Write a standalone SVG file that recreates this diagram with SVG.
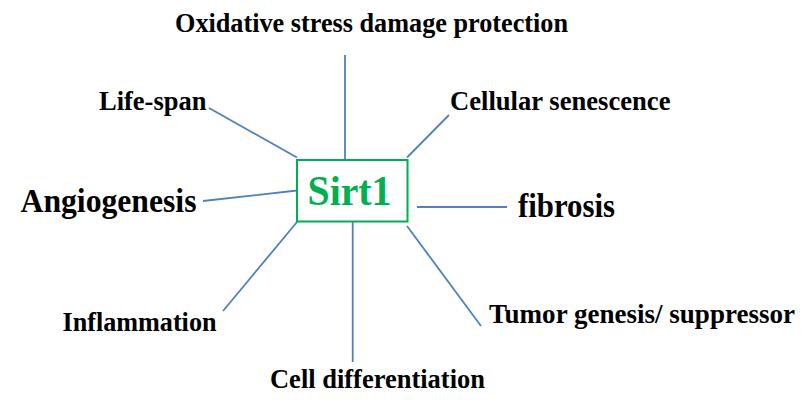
<svg xmlns="http://www.w3.org/2000/svg" width="811" height="411" viewBox="0 0 811 411">
<style>
.lbl{font-family:"Liberation Serif","Times New Roman",serif;font-weight:bold;fill:#000;font-size:27px}
.big{font-size:33px}
.c{stroke:#4F81BD;stroke-width:1.8;fill:none}
</style>
<rect width="811" height="411" fill="#fff"/>
<g id="connectors">
<line class="c" x1="345" y1="55" x2="345" y2="160"/>
<line class="c" x1="209" y1="108" x2="297" y2="157.5"/>
<line class="c" x1="449" y1="115" x2="407" y2="157.5"/>
<line class="c" x1="203" y1="201" x2="297" y2="190.5"/>
<line class="c" x1="417" y1="207" x2="507" y2="207"/>
<line class="c" x1="297" y1="222" x2="223" y2="311"/>
<line class="c" x1="352.7" y1="222" x2="352.7" y2="362"/>
<line class="c" x1="407" y1="226" x2="481" y2="326"/>
</g>
<g id="sirt1">
<rect x="297" y="160" width="110.5" height="61.5" fill="#fff" stroke="#00B050" stroke-width="2"/>
<text x="307.5" y="205" textLength="84" lengthAdjust="spacingAndGlyphs" font-family="Liberation Serif, Times New Roman, serif" font-weight="bold" font-size="43" fill="#00B050">Sirt1</text>
</g>
<g id="oxidative"><text class="lbl" x="175" y="31.5" textLength="393" lengthAdjust="spacingAndGlyphs">Oxidative stress damage protection</text></g>
<g id="lifespan"><text class="lbl" x="99" y="110" textLength="107.5" lengthAdjust="spacingAndGlyphs">Life-span</text></g>
<g id="cellular"><text class="lbl" x="450" y="110" textLength="220.5" lengthAdjust="spacingAndGlyphs">Cellular senescence</text></g>
<g id="angiogenesis"><text class="lbl big" x="20.5" y="211.5" textLength="176" lengthAdjust="spacingAndGlyphs">Angiogenesis</text></g>
<g id="fibrosis"><text class="lbl big" x="518" y="216.5" textLength="97" lengthAdjust="spacingAndGlyphs">fibrosis</text></g>
<g id="inflammation"><text class="lbl" x="62.5" y="330.5" textLength="154" lengthAdjust="spacingAndGlyphs">Inflammation</text></g>
<g id="tumor"><text class="lbl" x="489" y="323" textLength="306" lengthAdjust="spacingAndGlyphs">Tumor genesis/ suppressor</text></g>
<g id="celldiff"><text class="lbl" x="270" y="388" textLength="215" lengthAdjust="spacingAndGlyphs">Cell differentiation</text></g>
</svg>
